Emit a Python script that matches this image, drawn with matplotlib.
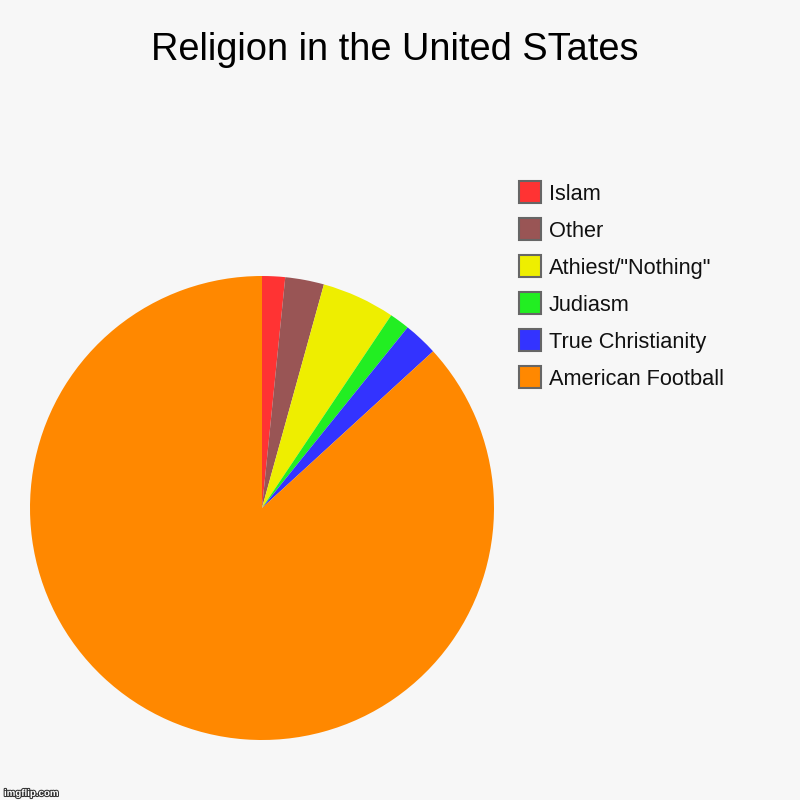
import matplotlib.pyplot as plt
import matplotlib.patheffects as pe
from matplotlib.patches import Rectangle

plt.rcParams['font.family'] = ['Liberation Sans', 'DejaVu Sans']

labels = ['Islam', 'Other', 'Athiest/"Nothing"', 'Judiasm', 'True Christianity', 'American Football']
values = [1.6, 2.7, 5.1, 1.4, 2.4, 86.8]
colors = ['#ff3333', '#995555', '#eeee00', '#22ee22', '#3333ff', '#ff8800']

bg = '#f7f7f7'
fig = plt.figure(figsize=(8, 8), dpi=100, facecolor=bg)

# pie: center (262, 508) px, radius 232 px
ax = fig.add_axes([30 / 800, 60 / 800, 464 / 800, 464 / 800])
ax.set_facecolor(bg)
ax.pie(values, colors=colors, startangle=90, counterclock=False, radius=1,
       wedgeprops=dict(linewidth=0))
ax.set_xlim(-1, 1)
ax.set_ylim(-1, 1)
ax.set_aspect('equal')
ax.axis('off')

fig.text(395 / 800, 1 - 50 / 800, 'Religion in the United STates',
         ha='center', va='center', fontsize=27.4, color='#000000')

# legend drawn by hand, rows 37 px apart
for i, (lab, col) in enumerate(zip(labels, colors)):
    yc = 192 + 37 * i
    fig.add_artist(Rectangle((519 / 800, 1 - (yc + 11) / 800), 22 / 800, 22 / 800,
                             transform=fig.transFigure, facecolor=col,
                             edgecolor='#666666', linewidth=1.5))
    fig.text(549 / 800, 1 - yc / 800, lab, ha='left', va='center_baseline',
             fontsize=15.7, color='#111111')

fig.text(4 / 800, 1 - 793 / 800, 'imgflip.com', ha='left', va='center',
         fontsize=7, color='white', fontweight='bold',
         path_effects=[pe.withStroke(linewidth=1.5, foreground='#333333')])

fig.savefig('out.png', dpi=100, facecolor=bg)
